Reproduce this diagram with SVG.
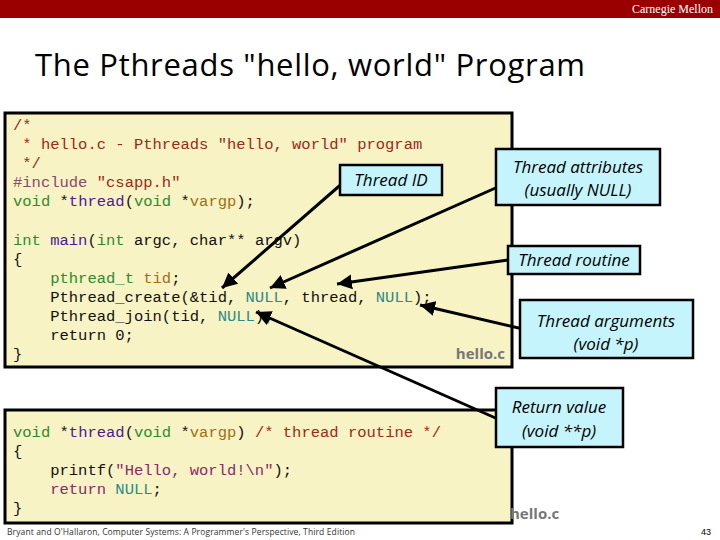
<svg xmlns="http://www.w3.org/2000/svg" width="720" height="540" viewBox="0 0 720 540">
<style>
.code{font-family:"Liberation Mono",monospace;font-size:15.5px;fill:#111;white-space:pre}
.cm{fill:#9a2a1a}.kw{fill:#2e8a2e}.fn{fill:#4a1a9a}.vr{fill:#a07010}.nl{fill:#2a8a8a}.st{fill:#8a2a6a}.pp{fill:#8a4a6a}
.box{fill:#f7f3c4;stroke:#000;stroke-width:3}
.call{fill:#c6f4fc;stroke:#000;stroke-width:2.5}
.ct{font-family:"Open Sans","Liberation Sans",sans-serif;font-style:italic;font-size:17px;fill:#000;text-anchor:middle}
.arr{stroke:#000;stroke-width:3;fill:none;marker-end:url(#ah)}
</style>
<defs><marker id="ah" markerWidth="6" markerHeight="6" refX="5" refY="3" orient="auto" markerUnits="strokeWidth"><path d="M0,0.5 L5,3 L0,5.5 z" fill="#000"/></marker></defs>
<rect width="720" height="540" fill="#fff"/>
<rect x="0" y="0" width="720" height="18" fill="#9a0000"/>
<text x="713" y="13" font-family="Liberation Serif,serif" font-size="12" fill="#fff" text-anchor="end">Carnegie Mellon</text>
<text x="35" y="76" font-family="Open Sans,Liberation Sans,sans-serif" font-size="31" fill="#000" textLength="550">The Pthreads "hello, world" Program</text>
<g id="code1">
<rect class="box" x="5" y="113" width="507" height="254"/>
<text class="code" x="13" y="130"><tspan class="cm">/*</tspan></text>
<text class="code" x="13" y="149"><tspan class="cm"> * hello.c - Pthreads "hello, world" program</tspan></text>
<text class="code" x="13" y="168"><tspan class="cm"> */</tspan></text>
<text class="code" x="13" y="187"><tspan class="pp">#include</tspan> <tspan class="cm">"csapp.h"</tspan></text>
<text class="code" x="13" y="206"><tspan class="kw">void</tspan> *<tspan class="fn">thread</tspan>(<tspan class="kw">void</tspan> *<tspan class="vr">vargp</tspan>);</text>
<text class="code" x="13" y="245"><tspan class="kw">int</tspan> <tspan class="fn">main</tspan>(<tspan class="kw">int</tspan> argc, char** argv)</text>
<text class="code" x="13" y="264">{</text>
<text class="code" x="13" y="283">    <tspan class="kw">pthread_t</tspan> <tspan class="vr">tid</tspan>;</text>
<text class="code" x="13" y="302">    Pthread_create(&amp;tid, <tspan class="nl">NULL</tspan>, thread, <tspan class="nl">NULL</tspan>);</text>
<text class="code" x="13" y="321">    Pthread_join(tid, <tspan class="nl">NULL</tspan>);</text>
<text class="code" x="13" y="340">    return 0;</text>
<text class="code" x="13" y="359">}</text>
<text x="505" y="359" font-family="Open Sans,Liberation Sans,sans-serif" font-weight="bold" font-size="15" fill="#777" text-anchor="end">hello.c</text>
</g>
<g id="code2">
<rect class="box" x="5" y="410" width="507" height="113"/>
<text class="code" x="13" y="437"><tspan class="kw">void</tspan> *<tspan class="fn">thread</tspan>(<tspan class="kw">void</tspan> *<tspan class="vr">vargp</tspan>) <tspan class="cm">/* thread routine */</tspan></text>
<text class="code" x="13" y="456">{</text>
<text class="code" x="13" y="475">    printf(<tspan class="st">"Hello, world!\n"</tspan>);</text>
<text class="code" x="13" y="494">    <tspan class="st">return</tspan> <tspan class="nl">NULL</tspan>;</text>
<text class="code" x="13" y="513">}</text>
</g>
<text x="510" y="519" font-family="Open Sans,Liberation Sans,sans-serif" font-weight="bold" font-size="15" fill="#777">hello.c</text>
<g id="connectors">
<line class="arr" x1="345" y1="181" x2="222" y2="288"/>
<line class="arr" x1="500" y1="186" x2="270" y2="288"/>
<line class="arr" x1="508" y1="260" x2="337" y2="284"/>
<line class="arr" x1="527" y1="330" x2="420" y2="305"/>
<line class="arr" x1="500" y1="420" x2="256" y2="312"/>
</g>
<g id="n-tid"><rect class="call" x="340" y="165" width="102" height="30"/><text class="ct" x="391" y="186">Thread ID</text></g>
<g id="n-attr"><rect class="call" x="496" y="149" width="164" height="56"/><text class="ct" x="578" y="173">Thread attributes</text><text class="ct" x="578" y="196">(usually NULL)</text></g>
<g id="n-routine"><rect class="call" x="508" y="246" width="132" height="28"/><text class="ct" x="574" y="266">Thread routine</text></g>
<g id="n-args"><rect class="call" x="520" y="300" width="173" height="58"/><text class="ct" x="606" y="327">Thread arguments</text><text class="ct" x="606" y="350">(void *p)</text></g>
<g id="n-ret"><rect class="call" x="496" y="388" width="127" height="59"/><text class="ct" x="559" y="413">Return value</text><text class="ct" x="559" y="437">(void **p)</text></g>
<text x="7" y="535" font-family="Open Sans,Liberation Sans,sans-serif" font-size="8.5" fill="#333" textLength="348">Bryant and O'Hallaron, Computer Systems: A Programmer's Perspective, Third Edition</text>
<text x="711" y="535" font-family="Liberation Sans,sans-serif" font-size="9" fill="#000" text-anchor="end">43</text>
</svg>
